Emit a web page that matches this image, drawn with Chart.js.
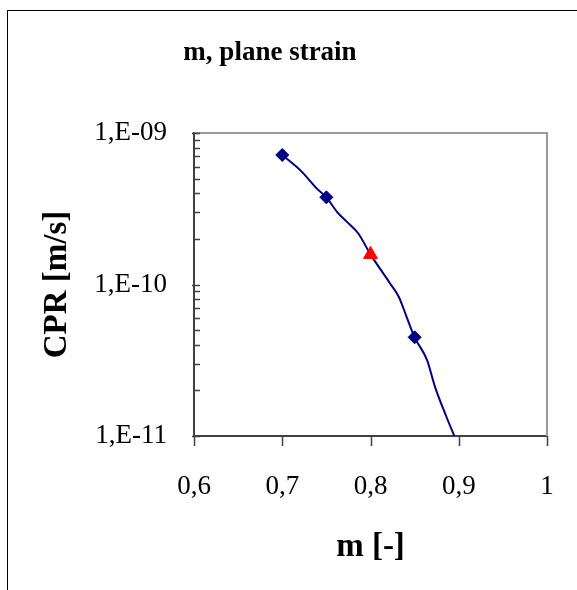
<!DOCTYPE html>
<html>
<head>
<meta charset="utf-8">
<script src="https://cdn.jsdelivr.net/npm/chart.js@4/dist/chart.umd.min.js"></script>
<style>
  html, body { margin: 0; padding: 0; background: #fff; overflow: hidden; }
</style>
</head>
<body>
<canvas id="chart" width="577" height="590"></canvas>
<script>
// fitted curve
const curveM   = [0.700, 0.722, 0.739, 0.750, 0.762, 0.773, 0.786, 0.800, 0.822, 0.832, 0.841, 0.850, 0.864, 0.873, 0.886, 0.895];
const curveCpr = [7.16e-10, 5.56e-10, 4.31e-10, 3.76e-10, 3.02e-10, 2.60e-10, 2.18e-10, 1.58e-10, 1.02e-10, 8.3e-11, 6.1e-11, 4.48e-11, 3.18e-11, 2.12e-11, 1.34e-11, 1.0e-11];

// computed points (diamonds)
const pointM   = [0.70, 0.75, 0.85];
const pointCpr = [7.16e-10, 3.76e-10, 4.48e-11];

// reference point (red triangle)
const refM   = [0.80];
const refCpr = [1.58e-10];

const xTicks = [0.6, 0.7, 0.8, 0.9, 1.0];
const yDecades = [1e-11, 1e-10, 1e-9];

const chartTitle = "m, plane strain";
const xTitle = "m [-]";
const yTitle = "CPR [m/s]";

const serif = '"Liberation Serif", "Times New Roman", serif';

const toXY = (xs, ys) => xs.map((x, i) => ({ x: x, y: ys[i] }));

// y ticks: decades plus 2..9 minors
const yTickValues = [];
yDecades.forEach((d, i) => {
    yTickValues.push(d);
    if (i < yDecades.length - 1) {
        for (let k = 2; k <= 9; k++) yTickValues.push(k * d);
    }
});

function fmtY(v) {
    const e = Math.round(Math.log10(v));
    return "1,E-" + String(-e).padStart(2, "0");
}

const framePlugin = {
    id: "frame",
    beforeDraw(chart) {
        const ctx = chart.ctx;
        ctx.save();
        ctx.fillStyle = "#fff";
        ctx.fillRect(0, 0, chart.width, chart.height);
        // outer chart border (runs off the page on right/bottom)
        ctx.strokeStyle = "#000";
        ctx.lineWidth = 1;
        ctx.strokeRect(7.5, 10.5, 800, 800);
        ctx.restore();
    },
    afterDraw(chart) {
        const ctx = chart.ctx;
        const a = chart.chartArea;
        const xs = chart.scales.x;
        const ys = chart.scales.y;
        ctx.save();
        // top / right plot frame
        ctx.strokeStyle = "#999";
        ctx.lineWidth = 2;
        ctx.beginPath();
        ctx.moveTo(a.left, a.top);
        ctx.lineTo(a.right, a.top);
        ctx.lineTo(a.right, a.bottom);
        ctx.stroke();

        ctx.strokeStyle = "#404040";
        ctx.lineWidth = 1.5;
        ctx.beginPath();
        // y ticks, drawn inside
        yTickValues.forEach(v => {
            const py = Math.round(ys.getPixelForValue(v)) + 0.5;
            const major = yDecades.includes(v);
            ctx.moveTo(a.left - (major ? 2 : 0), py);
            ctx.lineTo(a.left + 6, py);
        });
        // x ticks, drawn below
        xTicks.forEach(v => {
            const px = Math.round(xs.getPixelForValue(v)) + 0.5;
            ctx.moveTo(px, a.bottom);
            ctx.lineTo(px, a.bottom + 10);
        });
        ctx.stroke();

        // chart title
        ctx.fillStyle = "#000";
        ctx.font = "bold 27px " + serif;
        ctx.textAlign = "center";
        ctx.textBaseline = "middle";
        ctx.fillText(chartTitle, 270, 53);
        ctx.restore();
    }
};

new Chart(document.getElementById("chart"), {
    type: "scatter",
    data: {
        datasets: [
            {
                label: "curve",
                data: toXY(curveM, curveCpr),
                showLine: true,
                borderColor: "#000080",
                borderWidth: 2,
                pointRadius: 0,
                cubicInterpolationMode: "monotone",
                order: 3,
            },
            {
                label: "computed",
                data: toXY(pointM, pointCpr),
                pointStyle: "rectRot",
                pointRadius: 6.5,
                backgroundColor: "#000080",
                borderColor: "#000080",
                borderWidth: 1,
                order: 2,
            },
            {
                label: "reference",
                data: toXY(refM, refCpr),
                pointStyle: "triangle",
                pointRadius: 8,
                backgroundColor: "#ff0000",
                borderColor: "#ff0000",
                borderWidth: 1,
                order: 1,
            },
        ],
    },
    options: {
        responsive: false,
        animation: false,
        events: [],
        layout: { padding: { top: 133, right: 30, left: 0, bottom: 0 } },
        plugins: {
            legend: { display: false },
            tooltip: { enabled: false },
            title: { display: false },
        },
        scales: {
            x: {
                type: "linear",
                min: 0.6,
                max: 1.0,
                afterBuildTicks: s => { s.ticks = xTicks.map(v => ({ value: v })); },
                afterFit: s => {
                    s.height = 154;
                    s.paddingLeft = 0;
                    s.paddingRight = 0;
                },
                grid: { display: false, drawTicks: false },
                border: { display: true, color: "#404040", width: 2 },
                ticks: {
                    padding: 35,
                    color: "#000",
                    font: { family: serif, size: 27 },
                    maxRotation: 0,
                    callback: v => (v === 1 ? "1" : v.toFixed(1).replace(".", ",")),
                },
                title: {
                    display: true,
                    text: xTitle,
                    color: "#000",
                    font: { family: serif, size: 33, weight: "bold" },
                    padding: { top: 0, bottom: 23 },
                },
            },
            y: {
                type: "logarithmic",
                min: 1e-11,
                max: 1e-9,
                afterBuildTicks: s => { s.ticks = yTickValues.map(v => ({ value: v })); },
                afterFit: s => {
                    s.width = 194;
                    s.paddingTop = 0;
                    s.paddingBottom = 0;
                },
                grid: { display: false, drawTicks: false },
                border: { display: true, color: "#404040", width: 2 },
                ticks: {
                    padding: 27,
                    color: "#000",
                    font: { family: serif, size: 27 },
                    autoSkip: false,
                    callback: v => (yDecades.includes(v) ? fmtY(v) : ""),
                },
                title: {
                    display: true,
                    text: yTitle,
                    color: "#000",
                    font: { family: serif, size: 33, weight: "bold" },
                    padding: { top: 38, bottom: 0 },
                },
            },
        },
    },
    plugins: [framePlugin],
});
</script>
</body>
</html>
